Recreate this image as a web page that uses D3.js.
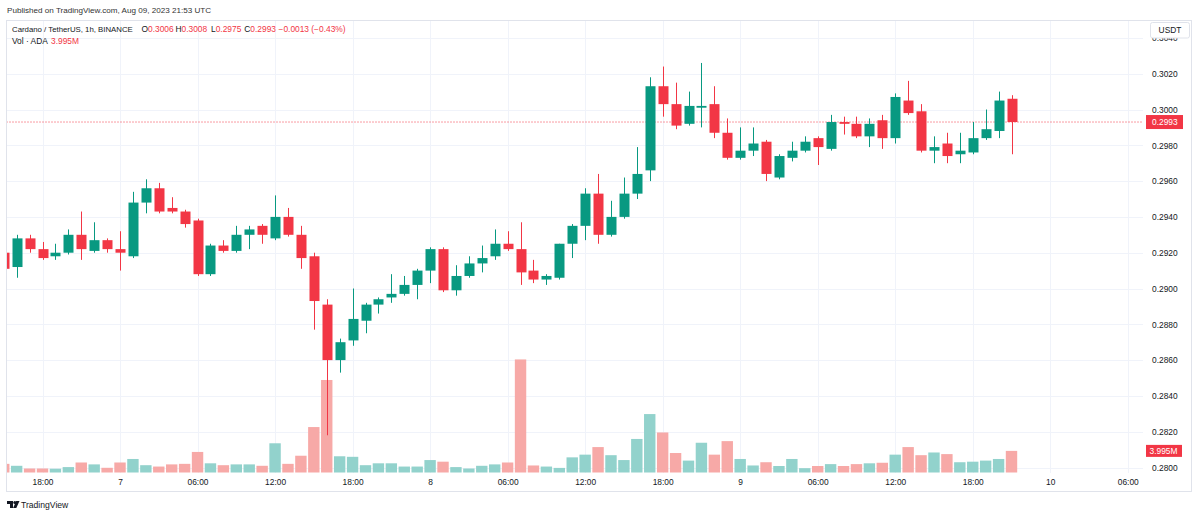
<!DOCTYPE html>
<html>
<head>
<meta charset="utf-8">
<script src="https://cdn.jsdelivr.net/npm/d3@7/dist/d3.min.js"></script>
<style>
  html, body { margin: 0; padding: 0; background: #ffffff; }
  svg { display: block; }
  text { font-family: "Liberation Sans", Arial, sans-serif; }
</style>
</head>
<body>
<svg id="chart" width="1200" height="516"></svg>
<script>
// ---------------- DATA ----------------
const startTime = "2023-08-06T15:00:00Z"; // first (partly visible) 1h candle
const opens  = [0.2920,0.2912,0.2928,0.2922,0.2918,0.2920,0.2930,0.2921,0.2927,0.2922,
                0.2918,0.2948,0.2956,0.2945,0.2943,0.2938,0.2908,0.2924,0.2921,0.2930,
                0.2935,0.2928,0.2940,0.2930,0.2918,0.2891,0.2860,0.2871,0.2882,0.2891,
                0.2895,0.2897,0.2902,0.2910,0.2922,0.2899,0.2907,0.2914,0.2918,0.2925,
                0.2922,0.2910,0.2905,0.2906,0.2925,0.2935,0.2953,0.2930,0.2940,0.2953,
                0.2966,0.3013,0.3003,0.2992,0.3001,0.3003,0.2987,0.2973,0.2977,0.2982,
                0.2962,0.2973,0.2977,0.2984,0.2978,0.2993,0.2992,0.2985,0.2994,0.2984,
                0.3005,0.2999,0.2977,0.2981,0.2975,0.2976,0.2984,0.2988,0.3006];
const highs  = [0.2922,0.2930,0.2930,0.2926,0.2925,0.2933,0.2943,0.2937,0.2928,0.2932,
                0.2954,0.2961,0.2959,0.2951,0.2944,0.2939,0.2925,0.2927,0.2935,0.2935,
                0.2936,0.2952,0.2945,0.2935,0.2920,0.2894,0.2872,0.2900,0.2892,0.2895,
                0.2908,0.2907,0.2911,0.2923,0.2923,0.2913,0.2918,0.2924,0.2933,0.2932,
                0.2937,0.2916,0.2908,0.2925,0.2936,0.2956,0.2964,0.2949,0.2962,0.2979,
                0.3018,0.3024,0.3015,0.3010,0.3026,0.3013,0.2995,0.2990,0.2990,0.2983,
                0.2975,0.2982,0.2985,0.2985,0.2997,0.2996,0.2996,0.2995,0.2997,0.3009,
                0.3016,0.3003,0.2985,0.2987,0.2987,0.2993,0.3000,0.3010,0.3008];
const lows   = [0.2910,0.2906,0.2920,0.2916,0.2916,0.2919,0.2916,0.2920,0.2920,0.2910,
                0.2917,0.2942,0.2942,0.2942,0.2934,0.2907,0.2907,0.2920,0.2920,0.2922,
                0.2925,0.2927,0.2929,0.2911,0.2877,0.2818,0.2853,0.2868,0.2875,0.2886,
                0.2892,0.2896,0.2894,0.2903,0.2898,0.2896,0.2906,0.2909,0.2916,0.2921,
                0.2902,0.2903,0.2902,0.2905,0.2917,0.2927,0.2925,0.2929,0.2939,0.2950,
                0.2960,0.2996,0.2989,0.2991,0.2990,0.2984,0.2972,0.2972,0.2974,0.2960,
                0.2961,0.2971,0.2976,0.2969,0.2977,0.2986,0.2984,0.2979,0.2978,0.2981,
                0.2997,0.2976,0.2970,0.2970,0.2970,0.2975,0.2983,0.2984,0.2975];
const closes = [0.2911,0.2928,0.2922,0.2917,0.2920,0.2930,0.2922,0.2927,0.2922,0.2920,
                0.2948,0.2956,0.2943,0.2943,0.2936,0.2908,0.2924,0.2921,0.2930,0.2933,
                0.2930,0.2940,0.2930,0.2917,0.2893,0.2860,0.2870,0.2883,0.2891,0.2894,
                0.2897,0.2902,0.2910,0.2922,0.2899,0.2907,0.2914,0.2917,0.2925,0.2922,
                0.2909,0.2905,0.2907,0.2925,0.2935,0.2953,0.2930,0.2940,0.2953,0.2964,
                0.3013,0.3003,0.2991,0.3002,0.3002,0.2987,0.2973,0.2977,0.2981,0.2964,
                0.2974,0.2977,0.2982,0.2979,0.2993,0.2992,0.2985,0.2992,0.2984,0.3007,
                0.2998,0.2977,0.2979,0.2974,0.2977,0.2984,0.2989,0.3005,0.2993];
// volume in millions of ADA
const volumes = [1.6,1.24,0.74,0.74,0.7,1.0,1.85,1.5,0.87,1.85,
                 2.5,1.35,1.1,1.5,1.6,3.8,1.7,1.35,1.5,1.5,
                 1.24,5.4,1.6,3.1,8.4,17.1,3.0,2.9,1.35,1.7,
                 1.7,1.1,1.1,2.3,2.0,1.0,0.74,1.24,1.5,1.85,
                 20.9,1.3,1.1,0.85,2.8,3.3,4.7,3.2,2.3,6.2,
                 10.8,7.4,3.6,2.2,5.5,3.3,5.8,2.5,1.3,1.9,
                 1.2,2.5,0.8,1.2,1.55,1.2,1.55,1.7,1.8,3.3,
                 4.7,3.2,3.7,3.4,1.9,2.0,2.2,2.5,3.995];
const priceTicks = [0.2800,0.2820,0.2840,0.2860,0.2880,0.2900,0.2920,0.2940,0.2960,0.2980,0.3000,0.3020,0.3040];
const timeTicks  = ["2023-08-06T18:00:00Z","2023-08-07T00:00:00Z","2023-08-07T06:00:00Z","2023-08-07T12:00:00Z",
                    "2023-08-07T18:00:00Z","2023-08-08T00:00:00Z","2023-08-08T06:00:00Z","2023-08-08T12:00:00Z",
                    "2023-08-08T18:00:00Z","2023-08-09T00:00:00Z","2023-08-09T06:00:00Z","2023-08-09T12:00:00Z",
                    "2023-08-09T18:00:00Z","2023-08-10T00:00:00Z","2023-08-10T06:00:00Z"];
const timeTickLabels = ["18:00","7","06:00","12:00","18:00","8","06:00","12:00","18:00","9","06:00","12:00","18:00","10","06:00"];
const lastPrice = 0.2993;
const lastVolume = 3.995;

// ---------------- SETUP ----------------
const UP = "#089981", DOWN = "#F23645";
const UP_VOL = "#92D2CC", DOWN_VOL = "#F7A9A7";
const TEXT = "#131722", GRID = "#f0f3fa", FRAME = "#e0e3eb";

const svg = d3.select("#chart");
const plot = {left: 6.5, right: 1143, top: 21, bottom: 473};

const t0 = new Date(startTime);
const times = opens.map((_, i) => d3.utcHour.offset(t0, i));
const candles = times.map((t, i) => ({t, o: opens[i], h: highs[i], l: lows[i], c: closes[i], v: volumes[i]}));

const x = d3.scaleUtc().domain([times[0], times[times.length - 1]]).range([3.74, 3.74 + 78 * 12.92]);
const y = d3.scaleLinear().domain([0.28, 0.302]).range([467.5, 467.5 - 0.022 * 17900]);
const yVol = d3.scaleLinear().domain([0, 25]).range([472.5, 472.5 - 25 * 5.41]);

// outer frame
svg.append("rect").attr("x", 6.5).attr("y", 20.5).attr("width", 1185).attr("height", 471)
  .attr("fill", "#fff").attr("stroke", FRAME).attr("stroke-width", 1);

// clip
svg.append("defs").append("clipPath").attr("id", "plotClip")
  .append("rect").attr("x", plot.left + 0.5).attr("y", plot.top).attr("width", plot.right - plot.left - 0.5).attr("height", plot.bottom - plot.top);

const g = svg.append("g").attr("clip-path", "url(#plotClip)");

// grid
g.append("g").selectAll("line").data(priceTicks).join("line")
  .attr("x1", plot.left).attr("x2", plot.right)
  .attr("y1", d => Math.round(y(d)) + 0.5).attr("y2", d => Math.round(y(d)) + 0.5)
  .attr("stroke", GRID).attr("stroke-width", 1);
g.append("g").selectAll("line").data(timeTicks).join("line")
  .attr("x1", d => Math.round(x(new Date(d))) + 0.5).attr("x2", d => Math.round(x(new Date(d))) + 0.5)
  .attr("y1", plot.top).attr("y2", plot.bottom)
  .attr("stroke", GRID).attr("stroke-width", 1);

// volume bars
const volW = 11.4;
g.append("g").selectAll("rect").data(candles).join("rect")
  .attr("x", d => x(d.t) - volW / 2).attr("width", volW)
  .attr("y", d => yVol(d.v)).attr("height", d => yVol(0) - yVol(d.v))
  .attr("fill", d => d.c >= d.o ? UP_VOL : DOWN_VOL);

// last price dotted line
g.append("line").attr("x1", plot.left).attr("x2", plot.right)
  .attr("y1", y(lastPrice)).attr("y2", y(lastPrice))
  .attr("stroke", DOWN).attr("stroke-width", 1).attr("stroke-dasharray", "1,2");

// candles
const bodyW = 10;
const cg = g.append("g").selectAll("g").data(candles).join("g");
cg.append("line")
  .attr("x1", d => Math.round(x(d.t)) + 0.5).attr("x2", d => Math.round(x(d.t)) + 0.5)
  .attr("y1", d => y(d.h)).attr("y2", d => y(d.l))
  .attr("stroke", d => d.c >= d.o ? UP : DOWN).attr("stroke-width", 1);
cg.append("rect")
  .attr("x", d => Math.round(x(d.t)) + 0.5 - bodyW / 2).attr("width", bodyW)
  .attr("y", d => y(Math.max(d.o, d.c)))
  .attr("height", d => Math.max(1, Math.abs(y(d.o) - y(d.c))))
  .attr("fill", d => d.c >= d.o ? UP : DOWN);

// price axis
const yAxis = d3.axisRight(y).tickValues(priceTicks).tickFormat(d3.format(".4f")).tickSize(0).tickPadding(9);
const ya = svg.append("g").attr("transform", `translate(${plot.right},0)`).call(yAxis);
ya.select(".domain").remove();
ya.selectAll("text").attr("fill", TEXT).attr("font-size", "8.4px")
  .attr("font-family", "'Liberation Sans', Arial, sans-serif");

// time axis
const xAxis = d3.axisBottom(x).tickValues(timeTicks.map(d => new Date(d)))
  .tickFormat((d, i) => timeTickLabels[i]).tickSize(0).tickPadding(6);
const xa = svg.append("g").attr("transform", `translate(0,${plot.bottom})`).call(xAxis);
xa.select(".domain").remove();
xa.selectAll("text").attr("fill", TEXT).attr("font-size", "8.4px")
  .attr("font-family", "'Liberation Sans', Arial, sans-serif");

// USDT box (covers top tick)
svg.append("rect").attr("x", 1150.5).attr("y", 22.5).attr("width", 39).attr("height", 15.5).attr("rx", 2)
  .attr("fill", "#fff").attr("stroke", FRAME);
svg.append("text").attr("x", 1170).attr("y", 33).attr("text-anchor", "middle")
  .attr("font-size", "8.4px").attr("fill", TEXT).text("USDT");

// last price label
svg.append("rect").attr("x", 1146).attr("y", y(lastPrice) - 7).attr("width", 37).attr("height", 14)
  .attr("fill", DOWN);
svg.append("text").attr("x", 1152).attr("y", y(lastPrice) + 3.2)
  .attr("font-size", "8.4px").attr("fill", "#fff").text(d3.format(".4f")(lastPrice));

// last volume label
svg.append("rect").attr("x", 1146).attr("y", yVol(lastVolume) - 6).attr("width", 36).attr("height", 12)
  .attr("fill", DOWN);
svg.append("text").attr("x", 1149.5).attr("y", yVol(lastVolume) + 3)
  .attr("font-size", "8.4px").attr("fill", "#fff").text(lastVolume.toFixed(3) + "M");

// header
svg.append("text").attr("x", 7).attr("y", 13).attr("font-size", "8.1px").attr("fill", "#333")
  .text("Published on TradingView.com, Aug 09, 2023 21:53 UTC");

// legend
const last = candles[candles.length - 1];
const leg = svg.append("text").attr("y", 32).attr("font-size", "8.4px").attr("fill", TEXT);
leg.append("tspan").attr("x", 12).attr("font-size", "7.8px").text("Cardano / TetherUS, 1h, BINANCE");
const fmt = d3.format(".4f");
[["O", last.o, 141.5], ["H", last.h, 175.5], ["L", last.l, 211], ["C", last.c, 244.3]].forEach(([k, v, px]) => {
  leg.append("tspan").attr("x", px).attr("fill", TEXT).text(k);
  leg.append("tspan").attr("fill", DOWN).text(fmt(v));
});
leg.append("tspan").attr("x", 278.5).attr("fill", DOWN)
  .text("\u2212" + fmt(Math.abs(last.c - last.o)) + " (\u2212" + (Math.abs(last.c - last.o) / last.o * 100).toFixed(2) + "%)");

const leg2 = svg.append("text").attr("y", 44).attr("font-size", "8.4px").attr("fill", TEXT);
leg2.append("tspan").attr("x", 12).text("Vol \u00b7 ADA");
leg2.append("tspan").attr("x", 51).attr("fill", DOWN).text(lastVolume.toFixed(3) + "M");

// TradingView logo
const logo = svg.append("g").attr("fill", TEXT);
logo.append("path").attr("d", "M7 501h6v7h-3v-4h-3z");
logo.append("circle").attr("cx", 14.8).attr("cy", 502.6).attr("r", 1.5);
logo.append("path").attr("d", "M16.2 501h3.3l-3.2 7h-3.2z");
svg.append("text").attr("x", 21).attr("y", 508).attr("font-size", "8.6px").attr("fill", TEXT).text("TradingView");
</script>
</body>
</html>
